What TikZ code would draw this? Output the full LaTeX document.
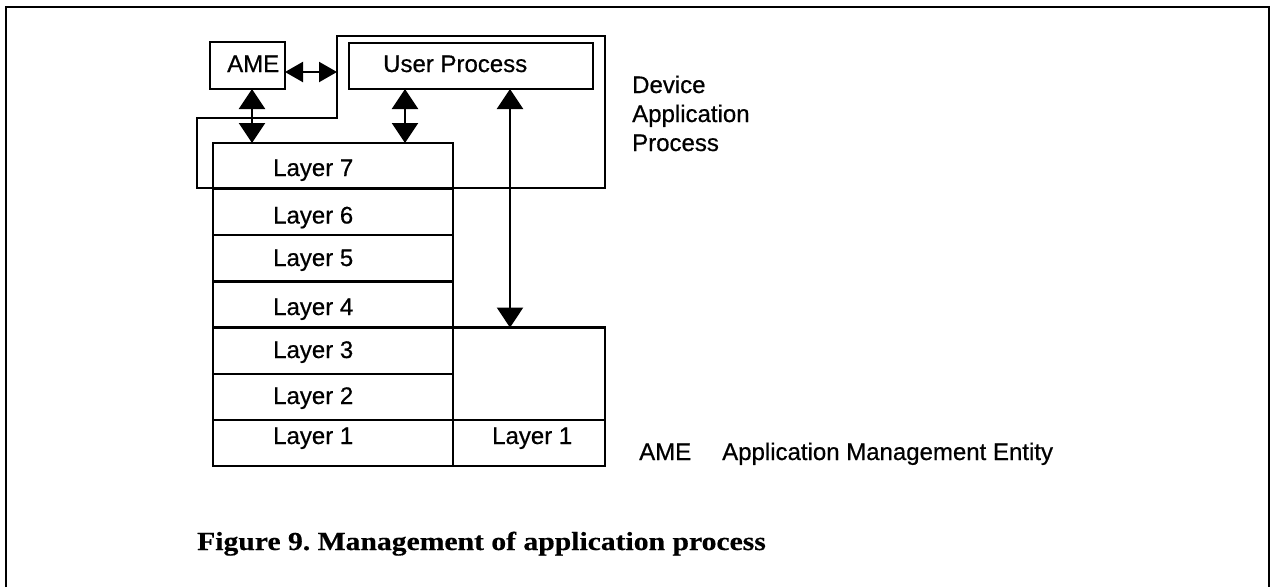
\documentclass[tikz,border=0pt]{standalone}
\usepackage{fontspec}
\usepackage{graphicx}
\setmainfont[FakeBold=0.6]{Liberation Sans}
\newfontfamily\capfont[FakeBold=0.4]{Liberation Serif}
\usetikzlibrary{arrows.meta,calc}
\frenchspacing
\begin{document}
\begin{tikzpicture}[x=1pt,y=-1pt,
  box/.style={draw,line width=2.4pt,inner sep=0pt,outer sep=0pt,anchor=north west},
  layerbox/.style={box,minimum width=240pt,minimum height=46.14pt},
  lbl/.style={inner sep=0pt,anchor=base west,font=\fontsize{24}{28}\selectfont},
  conn/.style={line width=2.2pt,{Triangle[length=20pt,width=26pt]}-{Triangle[length=20pt,width=26pt]}},
  hconn/.style={line width=2.2pt,{Triangle[length=18pt,width=20pt]}-{Triangle[length=18pt,width=20pt]}},
  frameside/.style={line width=1.4pt},
  frametop/.style={line width=2.6pt},
]
\useasboundingbox (0,0) rectangle (1274,587);
% outer frame
\draw[frameside] (6,587) -- (6,7);
\draw[frameside] (1269,7) -- (1269,587);
\draw[frametop] (5.3,7) -- (1269.7,7);
% boxes
\node[box,minimum width=75pt,minimum height=47pt] (ame) at (210,42) {};
\node[box,minimum width=244pt,minimum height=46pt] (up) at (349,43) {};
\node[layerbox] (l7) at (213,143) {};
\node[layerbox] (l6) at (213,189.14) {};
\node[layerbox] (l5) at (213,235.28) {};
\node[layerbox] (l4) at (213,281.42) {};
\node[layerbox] (l3) at (213,327.56) {};
\node[layerbox] (l2) at (213,373.7) {};
\node[layerbox] (l1) at (213,419.84) {};
\node[box,minimum width=152pt,minimum height=92.28pt] (rb) at (453,327.56) {};
\node[box,minimum width=152pt,minimum height=46.14pt] (r1) at (453,419.84) {};
% device application process outline
\draw[line width=2pt] (337,118) -- (337,36) -- (605,36) -- (605,188) -- (197,188) -- (197,118) -- cycle;
\coordinate (dapL) at (337,72);
\coordinate (ax1) at (252,0);
\coordinate (ax2) at (405,0);
\coordinate (ax3) at (510,0);
% connectors
\draw[hconn] (ame.east |- dapL) -- (dapL);
\draw[conn] (ame.south -| ax1) -- (l7.north -| ax1);
\draw[conn] (up.south -| ax2) -- (l7.north -| ax2);
\draw[conn] (up.south -| ax3) -- (rb.north -| ax3);
% texts
\node[lbl] (tame) at (227,72) {AME};
\node[lbl] (tup) at (383,72) {User Process};
\node[lbl] (t7) at (273,176) {Layer 7};
\node[lbl] (t6) at (273,223.5) {Layer 6};
\node[lbl] (t5) at (273,266) {Layer 5};
\node[lbl] (t4) at (273,315) {Layer 4};
\node[lbl] (t3) at (273,358) {Layer 3};
\node[lbl] (t2) at (273,404) {Layer 2};
\node[lbl] (t1) at (273,444) {Layer 1};
\node[lbl] (tr1) at (492,444) {Layer 1};
\node[lbl] (dev1) at (632,93) {Device};
\node[lbl] (dev2) at (632,122) {Application};
\node[lbl] (dev3) at (632,151) {Process};
\node[lbl] (lg1) at (639,460) {AME};
\node[lbl] (lg2) at (722,460) {Application Management Entity};
\node[inner sep=0pt,anchor=base west] (cap) at (197,550) {\scalebox{1.14}[1]{\capfont\bfseries\fontsize{26}{30}\selectfont Figure 9. Management of application process}};
\end{tikzpicture}
\end{document}
